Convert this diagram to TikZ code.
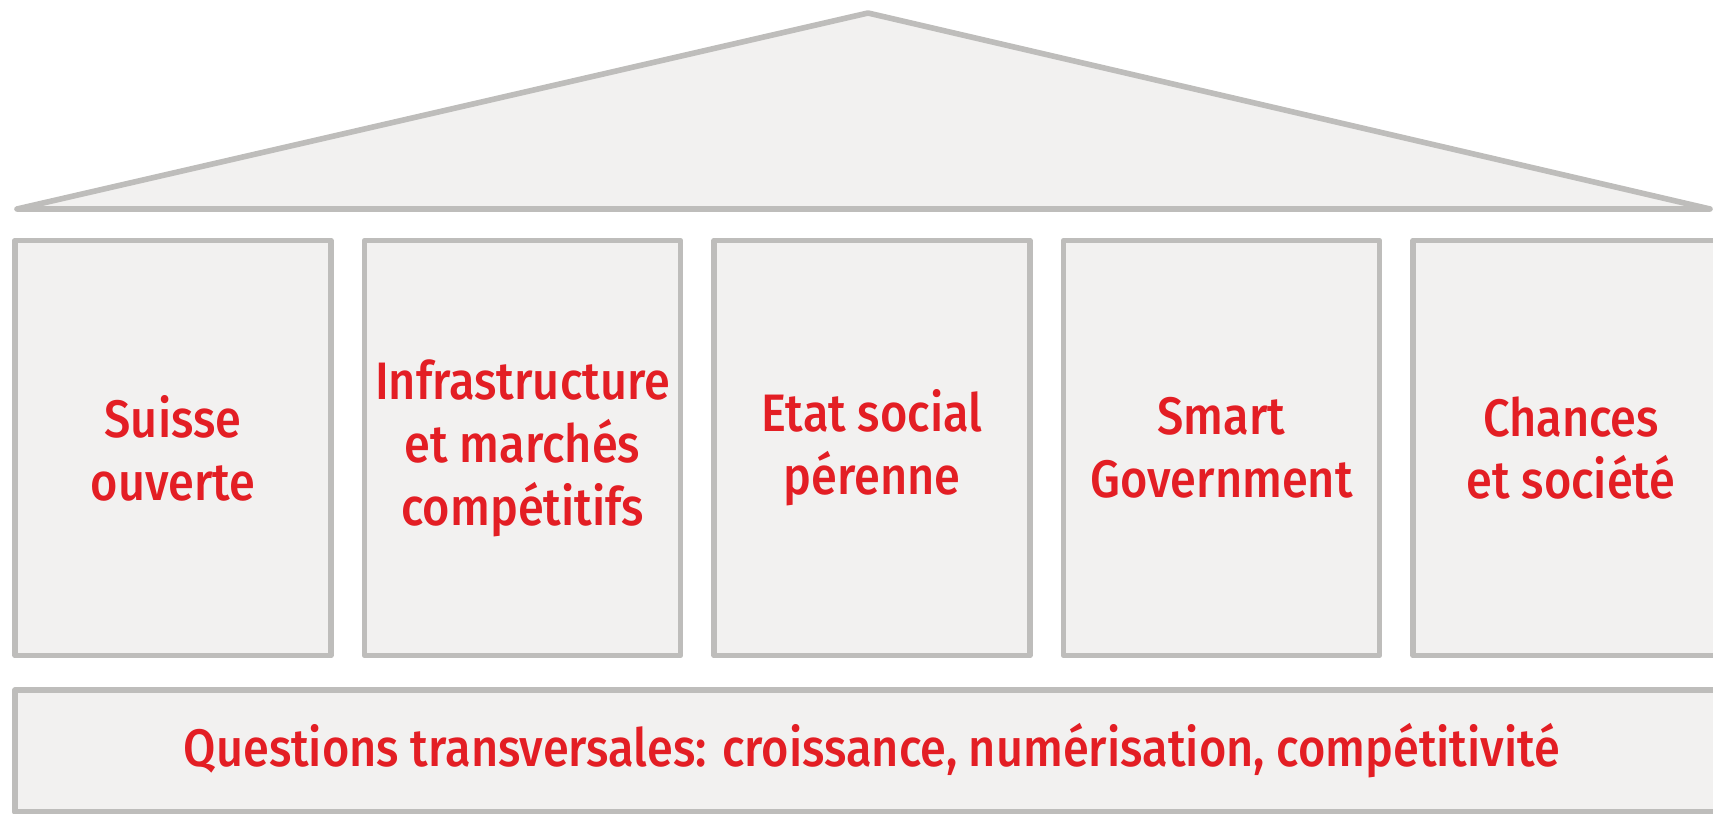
\documentclass[tikz,border=0pt]{standalone}
\usepackage{fontspec}
\setmainfont{Fira Sans Medium}[FakeStretch=0.89]
\definecolor{housegray}{RGB}{190,189,187}
\definecolor{housefill}{RGB}{242,241,240}
\definecolor{housered}{RGB}{227,30,36}
\begin{document}
\begin{tikzpicture}[
	houseline/.style={draw=housegray, line width=1.6pt, line join=round, fill=housefill},
	pillar/.style={houseline, minimum width=3.16cm, minimum height=4.15cm, inner sep=0pt,
		align=center, text=housered, font=\fontsize{15}{17.9}\selectfont},
	basement/.style={houseline, minimum width=17.14cm, minimum height=1.22cm, inner sep=0pt,
		text=housered, font=\fontsize{15}{17.9}\selectfont}]
		\useasboundingbox (0,0) rectangle (17.13,8.13);
		\draw[houseline] (0.17,6.04) -- (8.68,8.00) -- (17.10,6.04) -- cycle;
		\node[pillar] (suisse) at (1.73,3.65) {Suisse\\ouverte};
		\node[pillar] (infra) at (5.225,3.65) {Infrastructure\\et marchés\\compétitifs};
		\node[pillar] (etat) at (8.72,3.65) {Etat social\\pérenne};
		\node[pillar] (smart) at (12.215,3.65) {Smart\\Government};
		\node[pillar] (chances) at (15.71,3.65) {Chances\\et société};
		\node[basement] (questions) at (8.72,0.62) {\raisebox{-0.8ex}{Questions transversales: croissance, numérisation, compétitivité}};
	\end{tikzpicture}
\end{document}
